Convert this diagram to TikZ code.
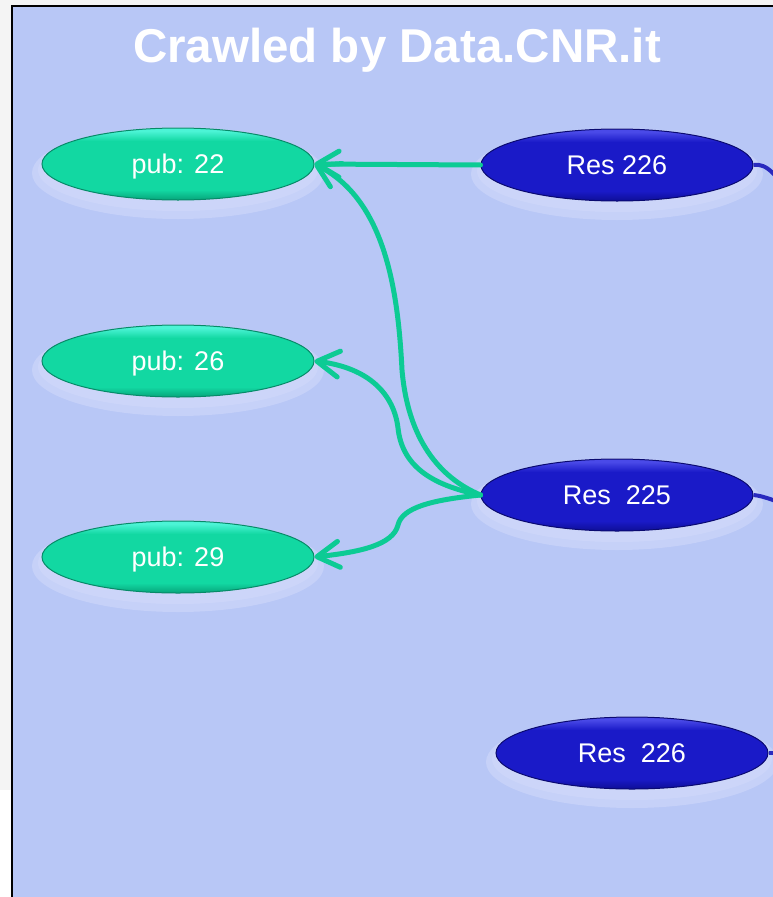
\documentclass[tikz,border=0pt]{standalone}
\usepackage{fontspec}
\setmainfont{Liberation Sans}
\usetikzlibrary{shapes.geometric,arrows.meta}
\definecolor{bgblue}{HTML}{B8C7F6}
\definecolor{outgray}{HTML}{F4F4F4}
\definecolor{halocol}{HTML}{D2DAFB}
\definecolor{gmain}{HTML}{12D8A2}
\definecolor{gtop}{HTML}{4CF4D6}
\definecolor{gbot}{HTML}{07A47A}
\definecolor{gedge}{HTML}{078A68}
\definecolor{bmain}{HTML}{1A1AC8}
\definecolor{btop}{HTML}{4A4AE8}
\definecolor{bbot}{HTML}{0E0E96}
\definecolor{bedge}{HTML}{0A0A70}
\definecolor{linkgreen}{HTML}{0CCB94}
\definecolor{linkblue}{HTML}{2A2ABE}
\pgfdeclareverticalshading{greenshade}{100bp}{color(0bp)=(gbot); color(25bp)=(gbot); color(32bp)=(gmain); color(66bp)=(gmain); color(73bp)=(gtop); color(100bp)=(gtop)}
\pgfdeclareverticalshading{blueshade}{100bp}{color(0bp)=(bbot); color(25bp)=(bbot); color(32bp)=(bmain); color(66bp)=(bmain); color(73bp)=(btop); color(100bp)=(btop)}
\tikzset{
  pubnode/.style={ellipse, minimum width=272pt, minimum height=72pt, inner sep=0pt,
    shading=greenshade, draw=gedge, line width=1pt,
    text=white, font=\fontsize{27}{30}\selectfont, text height=19pt, text depth=0pt},
  resnode/.style={ellipse, minimum width=272pt, minimum height=72pt, inner sep=0pt,
    shading=blueshade, draw=bedge, line width=1pt,
    text=white, font=\fontsize{27}{30}\selectfont, text height=19pt, text depth=0pt},
  halo/.style={fill=halocol, opacity=0.55},
  conn/.style={draw=linkgreen, line width=5pt, line cap=round,
    -{Straight Barb[length=22pt,width=26pt,line width=5pt,round]}},
  bluelink/.style={draw=linkblue, line width=4pt},
}
\newcommand{\halodraw}[2]{%
  \fill[halo] (#1,#2+9) ellipse [x radius=146pt, y radius=46pt];
  \fill[halo] (#1,#2+6) ellipse [x radius=140pt, y radius=41pt];
}
\begin{document}
\begin{tikzpicture}[x=1pt,y=-1pt]
\useasboundingbox (0,0) rectangle (773,897);
% page outside the slide
\fill[outgray] (0,0) rectangle (773,897);
\fill[white] (0,790) rectangle (11,897);
% slide background
\fill[bgblue] (11,5) rectangle (773,897);
\draw[black, line width=2.5pt] (12,897) -- (12,6) -- (773,6);
% title
\node[anchor=base, text=white, font=\bfseries\fontsize{47.5}{50}\selectfont] (title) at (397,62) {Crawled by Data.CNR.it};
% halos
\halodraw{178}{164}
\halodraw{178}{361}
\halodraw{178}{557}
\halodraw{617}{165}
\halodraw{617}{495}
\halodraw{632}{753}
% off-picture ends
\coordinate (o1) at (800,205);
\coordinate (o2) at (800,510);
\coordinate (o3) at (800,753);
% nodes
\node[pubnode] (p22) at (178,164) {pub: 22};
\node[pubnode] (p26) at (178,361) {pub: 26};
\node[pubnode] (p29) at (178,557) {pub: 29};
\node[resnode] (r226a) at (617,165) {Res 226};
\node[resnode] (r225) at (617,495) {Res\ \ 225};
\node[resnode] (r226b) at (632,753) {Res\ \ 226};
% blue links leaving the picture
\begin{scope}
\clip (0,0) rectangle (773,897);
\draw[bluelink] (r226a.east) .. controls (768,163) and (775,175) .. (o1);
\draw[bluelink] (r225.east) .. controls (765,496) and (780,503) .. (o2);
\draw[bluelink] (r226b.east) -- (o3);
\end{scope}
% green links
\draw[conn] (r226a.west) -- (p22.east);
\draw[conn] (r225.west) .. controls (440,478) and (408,440) .. (402,370)
                       .. controls (398,290) and (385,200) .. (p22.east);
\draw[conn] (r225.west) .. controls (430,485) and (402,465) .. (398,428)
                       .. controls (394,395) and (370,368) .. (p26.east);
\draw[conn] (r225.west) .. controls (430,500) and (402,508) .. (398,525)
                       .. controls (393,545) and (360,552) .. (p29.east);
\end{tikzpicture}
\end{document}
